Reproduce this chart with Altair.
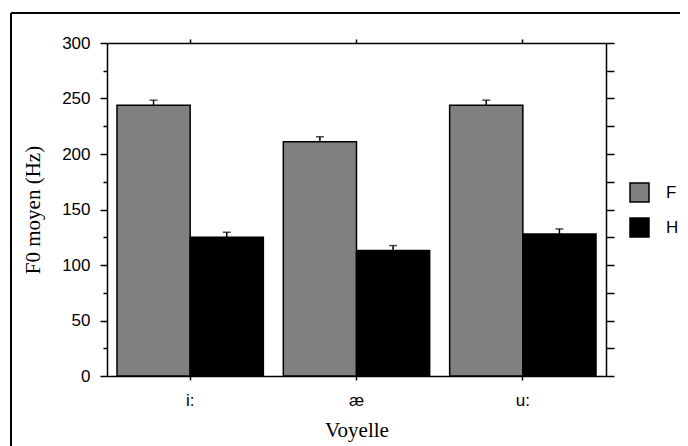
import altair as alt
import pandas as pd

vowels = ["i:", "æ", "u:"]
groups = ["F", "H"]
f_means = [244, 211, 244]
f_upper = [248.5, 215.5, 248.5]
h_means = [125, 113, 128]
h_upper = [129.5, 117.5, 132.5]
y_ticks = [0, 25, 50, 75, 100, 125, 150, 175, 200, 225, 250, 275, 300]

rows = []
for i, v in enumerate(vowels):
    rows.append({"Voyelle": v, "Sexe": "F", "F0": f_means[i], "Haut": f_upper[i]})
    rows.append({"Voyelle": v, "Sexe": "H", "F0": h_means[i], "Haut": h_upper[i]})
df = pd.DataFrame(rows)

SANS = "Liberation Sans"
SERIF = "Liberation Serif"

xscale = alt.Scale(domain=vowels, paddingInner=0.12, paddingOuter=0.06)
yscale = alt.Scale(domain=[0, 300], nice=False)
xoff = alt.XOffset("Sexe:N", scale=alt.Scale(domain=groups, paddingInner=0, paddingOuter=0))

base = alt.Chart(df)

bars = base.mark_bar(stroke="black", strokeWidth=1.5).encode(
    x=alt.X("Voyelle:N", scale=xscale, sort=vowels,
            axis=alt.Axis(orient="bottom", title="Voyelle", labelAngle=0,
                          tickSize=4, bandPosition=0.5, labelPadding=25,
                          labelBaseline="alphabetic", titleY=60,
                          titleBaseline="alphabetic")),
    xOffset=xoff,
    y=alt.Y("F0:Q", scale=yscale,
            axis=alt.Axis(orient="left", title="F0 moyen (Hz)", values=y_ticks,
                          tickSize={"condition": {"test": "datum.value % 50 === 0", "value": 7}, "value": 4},
                          labelExpr="datum.value % 50 === 0 ? datum.label : ''",
                          labelPadding=10, titleX=-74, titleBaseline="middle")),
    color=alt.Color("Sexe:N", scale=alt.Scale(domain=groups, range=["#808080", "#000000"]),
                    legend=alt.Legend(title=None, orient="none", legendX=522, legendY=139,
                                      symbolType="square", symbolSize=361,
                                      symbolStrokeColor="black", symbolStrokeWidth=1.5,
                                      labelFont=SANS, labelFontSize=17, labelColor="black",
                                      labelOffset=16, rowPadding=10, padding=0)),
)

err = base.mark_rule(color="black", strokeWidth=1.5).encode(
    x=alt.X("Voyelle:N", scale=xscale, sort=vowels, axis=None),
    xOffset=xoff,
    y=alt.Y("F0:Q", scale=yscale, axis=None),
    y2="Haut:Q",
)

caps = base.mark_tick(color="black", thickness=1.5, size=8).encode(
    x=alt.X("Voyelle:N", scale=xscale, sort=vowels,
            axis=alt.Axis(orient="top", title=None, labels=False, tickSize=4,
                          bandPosition=0.5)),
    xOffset=xoff,
    y=alt.Y("Haut:Q", scale=yscale,
            axis=alt.Axis(orient="right", title=None, labels=False, values=y_ticks,
                          tickSize=8)),
)

frame_left = alt.Chart(pd.DataFrame({"k": [0]})).mark_rule(color="black", strokeWidth=2).encode(
    x=alt.value(-96), y=alt.value(-30), y2=alt.value(460)
)
frame_top = alt.Chart(pd.DataFrame({"k": [0]})).mark_rule(color="black", strokeWidth=2).encode(
    x=alt.value(-96), x2=alt.value(700), y=alt.value(-30)
)

chart = alt.layer(bars, err, caps, frame_left, frame_top).resolve_axis(
    x="independent", y="independent"
).properties(
    width=499, height=333,
    autosize=alt.AutoSizeParams(type="none"),
    padding={"left": 99, "top": 35, "right": 74, "bottom": 70},
).configure_view(stroke=None).configure_axis(
    grid=False,
    domainColor="black", domainWidth=1.5,
    tickColor="black", tickWidth=1.5,
    labelFont=SANS, labelFontSize=17, labelColor="black",
    titleFont=SERIF, titleFontSize=21, titleColor="black", titleFontWeight="normal",
)

chart.save("out.html", embed_options={"renderer": "svg", "actions": False})
